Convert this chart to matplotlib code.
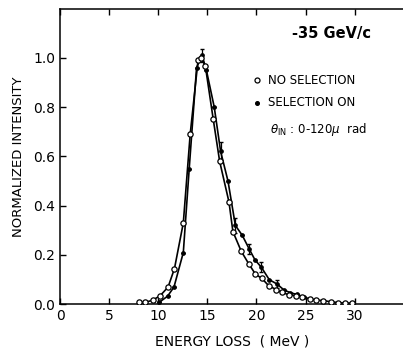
import numpy as np
import matplotlib.pyplot as plt

# energy loss spectrum, no angular selection (open circles)
e_open = [8.0, 8.7, 9.45, 10.2, 11.0, 11.65, 12.55, 13.25, 14.05, 14.4, 14.8,
          15.6, 16.25, 17.2, 17.6, 18.45, 19.2, 19.9, 20.55, 21.25, 22.0, 22.6,
          23.35, 24.0, 24.6, 25.4, 26.1, 26.8, 27.6, 28.3, 29.0, 29.7]
i_open = [0.008, 0.008, 0.017, 0.035, 0.07, 0.145, 0.33, 0.69, 0.99, 1.0, 0.965,
          0.75, 0.58, 0.415, 0.295, 0.215, 0.165, 0.122, 0.105, 0.075, 0.06, 0.048,
          0.038, 0.035, 0.03, 0.023, 0.017, 0.015, 0.01, 0.007, 0.005, 0.005]

# selection on incident angle (filled dots)
e_sel = [10.1, 10.95, 11.6, 12.55, 13.15, 13.9, 14.45, 14.9, 15.7, 16.35, 17.1,
         17.85, 18.55, 19.25, 19.85, 20.5, 21.3, 22.1, 22.8, 23.45, 24.1, 24.8]
i_sel = [0.008, 0.033, 0.07, 0.21, 0.55, 0.96, 1.01, 0.95, 0.80, 0.62, 0.50,
         0.32, 0.28, 0.225, 0.18, 0.15, 0.10, 0.082, 0.058, 0.047, 0.04, 0.03]
err_sel = [0, 0, 0, 0, 0, 0, 0.025, 0, 0, 0.04, 0,
           0.03, 0, 0.02, 0, 0.02, 0, 0.015, 0, 0, 0, 0]

xticks = [0, 5, 10, 15, 20, 25, 30]
yticks = [0.0, 0.2, 0.4, 0.6, 0.8, 1.0]

plt.rcParams['font.family'] = 'DejaVu Sans'

fig = plt.figure(figsize=(4.03, 3.5), dpi=100)
ax = fig.add_axes([0.149, 0.1306, 0.853, 0.845])

ax.plot(e_sel, i_sel, '-', color='black', lw=1.2, marker='o', ms=2.4,
        mfc='black', mec='black', zorder=2)
ax.errorbar(e_sel, i_sel, yerr=err_sel, fmt='none', ecolor='black',
            elinewidth=0.9, capsize=1.5, zorder=2)
ax.plot(e_open, i_open, '-', color='black', lw=1.2, marker='o', ms=3.8,
        mfc='white', mec='black', mew=0.9, zorder=3)

ax.set_xlim(0, 35)
ax.set_ylim(0, 1.2)
ax.set_xticks(xticks)
ax.set_yticks(yticks)
ax.set_xticklabels([str(t) for t in xticks])
ax.set_yticklabels([f'{t:.1f}' for t in yticks])
ax.tick_params(direction='in', length=4, width=1, labelsize=10,
               top=True, right=False)
for s in ax.spines.values():
    s.set_linewidth(1.1)

ax.set_xlabel('ENERGY LOSS  ( MeV )', fontsize=10, labelpad=8)
ax.set_ylabel('NORMALIZED INTENSITY', fontsize=9.5, labelpad=6)

ax.text(23.6, 1.10, '-35 GeV/c', fontsize=10.5, fontweight='bold', va='center')
ax.plot([20.1], [0.91], 'o', ms=3.6, mfc='white', mec='black', mew=0.9)
ax.text(21.2, 0.91, 'NO SELECTION', fontsize=8.5, va='center')
ax.plot([20.1], [0.817], 'o', ms=2.6, color='black')
ax.text(21.2, 0.817, 'SELECTION ON', fontsize=8.5, va='center')
ax.text(21.4, 0.711, r'$\theta_{\rm IN}$ : 0-120$\mu$  rad', fontsize=8.5,
        va='center')

fig.savefig('out.png', dpi=100)
